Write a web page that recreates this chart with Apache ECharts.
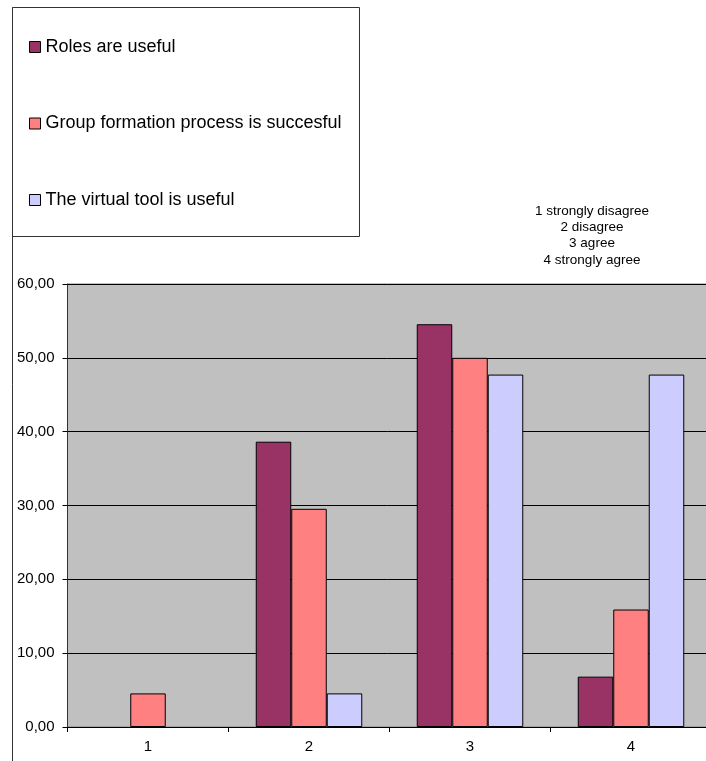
<!DOCTYPE html>
<html>
<head>
<meta charset="utf-8">
<script src="https://cdn.jsdelivr.net/npm/echarts@6/dist/echarts.min.js"></script>
<style>html,body{margin:0;padding:0;background:#fff;}#c{width:706px;height:761px;}</style>
</head>
<body>
<div id="c"></div>
<script>
const categories = ['1', '2', '3', '4'];
const seriesNames = ['Roles are useful', 'Group formation process is succesful', 'The virtual tool is useful'];
const rolesUseful = [0, 38.64, 54.55, 6.82];
const groupFormation = [4.55, 29.55, 50.00, 15.91];
const virtualTool = [0, 4.55, 47.73, 47.73];
const yTicks = [0, 10, 20, 30, 40, 50, 60];
const noteLines = ['1 strongly disagree', '2 disagree', '3 agree', '4 strongly agree'];

const colors = ['#993366', '#FF8080', '#CCCCFF'];
const font = 'Liberation Sans, Arial, sans-serif';
const chart = echarts.init(document.getElementById('c'), null, {renderer: 'canvas'});
const values = [rolesUseful, groupFormation, virtualTool];

chart.setOption({
  animation: false,
  backgroundColor: '#ffffff',
  textStyle: {fontFamily: font, color: '#000'},
  legend: {
    orient: 'vertical',
    left: 29,
    top: 38,
    padding: 0,
    itemWidth: 11,
    itemHeight: 11,
    itemGap: 58.5,
    icon: 'rect',
    selectedMode: false,
    textStyle: {fontSize: 18, color: '#000', fontFamily: font},
    data: seriesNames.map((n, i) => ({name: n, itemStyle: {color: colors[i], borderColor: '#000', borderWidth: 1}}))
  },
  graphic: [
    {type: 'rect', shape: {x: 12.5, y: 7.5, width: 347, height: 229}, style: {fill: 'none', stroke: '#333', lineWidth: 1}, z: -1},
    {type: 'line', shape: {x1: 12.5, y1: 7.5, x2: 12.5, y2: 761}, style: {stroke: '#333', lineWidth: 1}},
    {type: 'text', x: 592, y: 203, style: {text: noteLines.join('\n'), fill: '#000', font: '13.5px ' + font, textAlign: 'center', lineHeight: 16.3}}
  ],
  grid: {left: 67.5, top: 284, width: 644, bottom: 34, outerBoundsMode: 'none', containLabel: false, show: true, backgroundColor: '#C0C0C0', borderColor: '#808080', borderWidth: 1},
  xAxis: {
    type: 'category',
    data: categories,
    boundaryGap: true,
    axisLine: {lineStyle: {color: '#000', width: 1}},
    axisTick: {show: true, length: 5, lineStyle: {color: '#000'}},
    axisLabel: {fontSize: 15, color: '#000', margin: 12, fontFamily: font}
  },
  yAxis: {
    type: 'value',
    min: yTicks[0],
    max: yTicks[yTicks.length - 1],
    interval: 10,
    axisLine: {show: true, lineStyle: {color: '#333', width: 1}},
    axisTick: {show: true, length: 5, lineStyle: {color: '#000'}},
    axisLabel: {fontSize: 15, color: '#000', margin: 13, fontFamily: font, formatter: v => v.toFixed(2).replace('.', ',')},
    splitLine: {show: true, lineStyle: {color: '#000', width: 1}}
  },
  series: seriesNames.map((n, i) => ({
    name: n,
    type: 'bar',
    data: values[i].map(v => v === 0 ? {value: v, itemStyle: {borderWidth: 0}} : v),
    barWidth: 35.5,
    barGap: '0%',
    itemStyle: {color: colors[i], borderColor: '#000', borderWidth: 1}
  }))
});
</script>
</body>
</html>
